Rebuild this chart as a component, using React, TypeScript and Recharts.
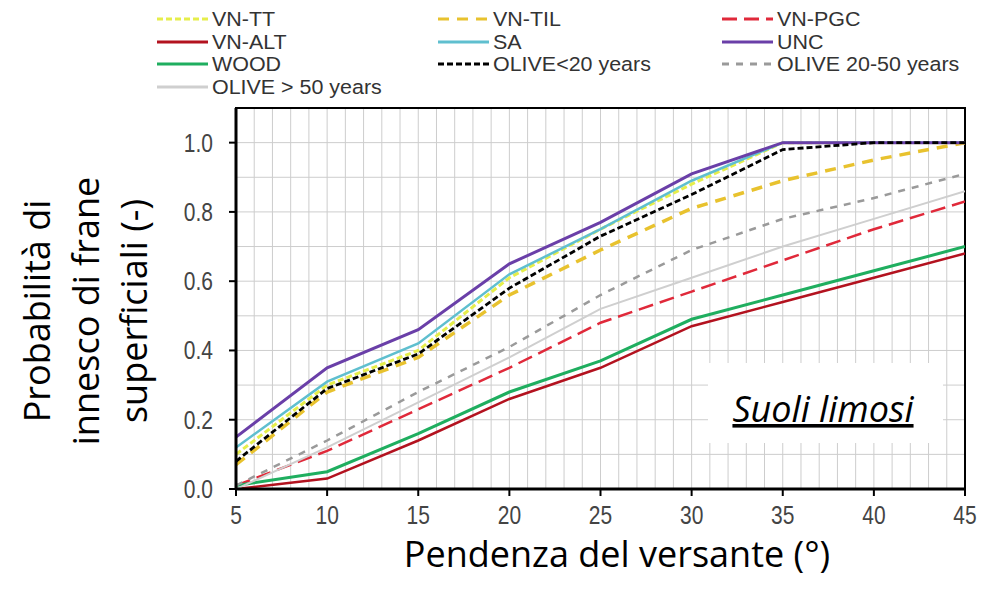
import React from "react";
import {
  LineChart,
  Line,
  XAxis,
  YAxis,
  CartesianGrid,
  ReferenceArea,
} from "recharts";

// ---- data ----
const slopes = [5, 10, 15, 20, 25, 30, 35, 40, 45];
const vnTT = [0.1, 0.3, 0.4, 0.61, 0.75, 0.88, 1.0, 1.0, 1.0];
const vnTIL = [0.07, 0.28, 0.38, 0.56, 0.69, 0.81, 0.89, 0.95, 1.0];
const vnPGC = [0.01, 0.11, 0.23, 0.35, 0.48, 0.57, 0.66, 0.75, 0.83];
const vnALT = [0.0, 0.03, 0.14, 0.26, 0.35, 0.47, 0.54, 0.61, 0.68];
const sa = [0.12, 0.31, 0.42, 0.62, 0.75, 0.89, 1.0, 1.0, 1.0];
const unc = [0.15, 0.35, 0.46, 0.65, 0.77, 0.91, 1.0, 1.0, 1.0];
const wood = [0.01, 0.05, 0.16, 0.28, 0.37, 0.49, 0.56, 0.63, 0.7];
const oliveLt20 = [0.08, 0.29, 0.39, 0.58, 0.73, 0.85, 0.98, 1.0, 1.0];
const olive2050 = [0.01, 0.14, 0.28, 0.41, 0.56, 0.69, 0.78, 0.84, 0.91];
const oliveGt50 = [0.0, 0.12, 0.25, 0.38, 0.52, 0.61, 0.7, 0.78, 0.86];

const xTicks = [5, 10, 15, 20, 25, 30, 35, 40, 45];
const yTicks = [0, 0.2, 0.4, 0.6, 0.8, 1.0];
const xGrid = Array.from({ length: 41 }, (_, i) => 5 + i);
const yGrid = Array.from({ length: 12 }, (_, i) => Math.round(i * 10) / 100);

const xTitle = "Pendenza del versante (°)";
const yTitleLines = ["Probabilità di", "innesco di frane", "superficiali (-)"];
const annotation = "Suoli limosi";

type Series = {
  key: string;
  name: string;
  values: number[];
  color: string;
  width: number;
  dash?: string;
};

const series: Series[] = [
  { key: "vntt", name: "VN-TT", values: vnTT, color: "#e6ee4a", width: 3, dash: "6 3" },
  { key: "vntil", name: "VN-TIL", values: vnTIL, color: "#e8c22e", width: 3.5, dash: "11 8" },
  { key: "vnpgc", name: "VN-PGC", values: vnPGC, color: "#e0293a", width: 2.5, dash: "15 7" },
  { key: "vnalt", name: "VN-ALT", values: vnALT, color: "#b3121f", width: 2.5 },
  { key: "sa", name: "SA", values: sa, color: "#5fbfcf", width: 2.5 },
  { key: "unc", name: "UNC", values: unc, color: "#6a3fa8", width: 3 },
  { key: "wood", name: "WOOD", values: wood, color: "#1fae5f", width: 3 },
  { key: "olt20", name: "OLIVE<20 years", values: oliveLt20, color: "#000000", width: 2.8, dash: "6 3" },
  { key: "o2050", name: "OLIVE 20-50 years", values: olive2050, color: "#9a9a9a", width: 2.5, dash: "7 7" },
  { key: "ogt50", name: "OLIVE > 50 years", values: oliveGt50, color: "#cfcfcf", width: 2 },
];

const data = slopes.map((x, i) => {
  const row: Record<string, number> = { x };
  series.forEach((s) => {
    row[s.key] = s.values[i];
  });
  return row;
});

const legendCols = [157, 438, 722];
const legendRows = [19, 42, 64, 87];

const FONT_SANS = "Liberation Sans, Arial, sans-serif";

function XTick(props: any) {
  const { x, y, payload } = props;
  return (
    <g transform={`translate(${x}, ${y}) scale(0.84, 1)`}>
      <text x={0} y={0} dy="0.71em" textAnchor="middle" fontSize={25} fill="#444" fontFamily={FONT_SANS}>
        {payload.value}
      </text>
    </g>
  );
}

function YTick(props: any) {
  const { x, y, payload } = props;
  return (
    <g transform={`translate(${x}, ${y}) scale(0.84, 1)`}>
      <text x={0} y={0} dy="0.355em" textAnchor="end" fontSize={25} fill="#444" fontFamily={FONT_SANS}>
        {Number(payload.value).toFixed(1)}
      </text>
    </g>
  );
}

export default function App() {
  return (
    <div style={{ position: "absolute", left: 0, top: 0, width: 986, height: 589, background: "#fff" }}>
      <LineChart
        width={986}
        height={589}
        data={data}
        margin={{ top: 108, right: 21, bottom: 60, left: 176 }}
      >
        <CartesianGrid
          stroke="#cdcdcd"
          strokeWidth={1}
          verticalValues={xGrid}
          horizontalValues={yGrid}
        />
        <XAxis
          dataKey="x"
          type="number"
          domain={[5, 45]}
          ticks={xTicks}
          interval={0}
          height={40}
          tick={<XTick />}
          tickSize={7}
          tickMargin={10}
          tickLine={{ stroke: "#000", strokeWidth: 2 }}
          axisLine={{ stroke: "#000", strokeWidth: 3 }}
          allowDataOverflow
        />
        <YAxis
          type="number"
          domain={[0, 1.1]}
          ticks={yTicks}
          interval={0}
          width={60}
          tick={<YTick />}
          tickSize={7}
          tickMargin={16}
          tickLine={{ stroke: "#000", strokeWidth: 2 }}
          axisLine={{ stroke: "#000", strokeWidth: 3 }}
          allowDataOverflow
        />
        {series.map((s) => (
          <Line
            key={s.key}
            dataKey={s.key}
            name={s.name}
            type="linear"
            stroke={s.color}
            strokeWidth={s.width}
            strokeDasharray={s.dash}
            dot={false}
            activeDot={false}
            isAnimationActive={false}
          />
        ))}
        <ReferenceArea
          x1={5}
          x2={45}
          y1={0}
          y2={1.1}
          fill="none"
          fillOpacity={0}
          stroke="#000"
          strokeWidth={2}
          ifOverflow="visible"
        />
      </LineChart>
      <svg
        width={986}
        height={589}
        style={{ position: "absolute", left: 0, top: 0, pointerEvents: "none" }}
      >
        {series.map((s, i) => {
          const cx = legendCols[i % 3];
          const cy = legendRows[Math.floor(i / 3)];
          return (
            <g key={s.key}>
              <line
                x1={cx}
                x2={cx + 51}
                y1={cy}
                y2={cy}
                stroke={s.color}
                strokeWidth={3}
                strokeDasharray={s.dash}
              />
              <g transform={`translate(${cx + 55}, ${cy}) scale(1.1, 1)`}>
                <text
                  x={0}
                  y={0}
                  dy="0.36em"
                  fontSize={19.5}
                  fill="#333"
                  fontFamily={FONT_SANS}
                >
                  {s.name}
                </text>
              </g>
            </g>
          );
        })}
        <text
          x={617}
          y={567}
          textAnchor="middle"
          fontSize={36}
          fontFamily="Open Sans, sans-serif"
          fill="#000"
        >
          {xTitle}
        </text>
        {yTitleLines.map((t, i) => {
          const bx = [50, 99, 147][i];
          const cy = 311;
          return (
            <text
              key={t}
              x={bx}
              y={cy}
              textAnchor="middle"
              fontSize={36}
              fontFamily="Open Sans, sans-serif"
              fill="#000"
              transform={`rotate(-90, ${bx}, ${cy})`}
            >
              {t}
            </text>
          );
        })}
        <rect x={708} y={363} width={235} height={80} fill="#fff" />
        <text
          x={823}
          y={422}
          textAnchor="middle"
          fontSize={36}
          fontStyle="italic"
          fontFamily="Open Sans, sans-serif"
          textDecoration="underline"
          fill="#000"
        >
          {annotation}
        </text>
      </svg>
    </div>
  );
}
